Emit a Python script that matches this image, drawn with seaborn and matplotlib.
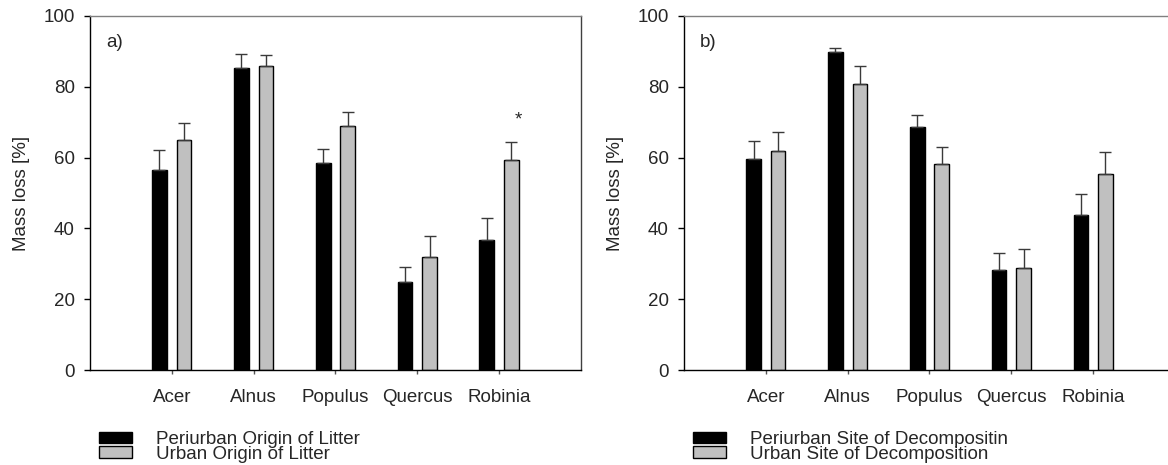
import numpy as np
import pandas as pd
import matplotlib
import matplotlib.pyplot as plt
import seaborn as sns
from matplotlib.patches import Patch

matplotlib.use('Agg')

species = ['Acer', 'Alnus', 'Populus', 'Quercus', 'Robinia']

# a) origin of litter
a_periurban = [56.6, 85.4, 58.4, 24.9, 36.7]
a_periurban_err = [5.6, 4.0, 3.9, 4.2, 6.3]
a_urban = [65.1, 85.9, 68.8, 32.0, 59.4]
a_urban_err = [4.8, 3.2, 4.2, 5.8, 5.1]

# b) site of decomposition
b_periurban = [59.5, 89.9, 68.6, 28.3, 43.9]
b_periurban_err = [5.3, 1.1, 3.5, 4.7, 5.7]
b_urban = [62.0, 80.9, 58.2, 28.9, 55.3]
b_urban_err = [5.3, 5.1, 4.7, 5.4, 6.2]

a_labels = ['Periurban Origin of Litter', 'Urban Origin of Litter']
b_labels = ['Periurban Site of Decompositin', 'Urban Site of Decomposition']

sns.set_theme(style='ticks')
plt.rcParams['font.family'] = ['Liberation Sans', 'DejaVu Sans']

FS = 13.5
BAR_COLORS = ['black', '#c0c0c0']


def make_frame(periurban, urban, labels):
    return pd.DataFrame({
        'species': species * 2,
        'value': periurban + urban,
        'group': [labels[0]] * len(species) + [labels[1]] * len(species),
    })


def draw_panel(ax, periurban, periurban_err, urban, urban_err, labels, tag):
    df = make_frame(periurban, urban, labels)
    sns.barplot(
        data=df, x='species', y='value', hue='group',
        palette=BAR_COLORS, width=0.6, gap=0.4,
        edgecolor='black', linewidth=1.0,
        errorbar=None, legend=False, ax=ax
    )
    # only the upper half of the error bars is shown
    for container, err in zip(ax.containers, [periurban_err, urban_err]):
        xs = [p.get_x() + p.get_width() / 2 for p in container.patches]
        ys = [p.get_height() for p in container.patches]
        ax.errorbar(
            xs, ys, yerr=[np.zeros(len(err)), err], fmt='none',
            ecolor='#3a3a3a', elinewidth=1.0, capsize=4, capthick=1.0, zorder=1
        )

    ax.set_xlim(-1, 5)
    ax.set_ylim(0, 100)
    ax.set_yticks([0, 20, 40, 60, 80, 100])
    ax.set_xlabel('')
    ax.set_ylabel('Mass loss [%]', fontsize=FS)
    ax.yaxis.set_label_coords(-0.122, 0.5)
    ax.tick_params(axis='y', length=4, width=1, pad=7, labelsize=FS, color='black')
    ax.tick_params(axis='x', length=3, width=1, pad=11, labelsize=FS, color='#555555')
    for side in ['left', 'bottom']:
        ax.spines[side].set_color('black')
        ax.spines[side].set_linewidth(1.0)
    ax.spines['top'].set_color('#808080')
    ax.spines['right'].set_color('#404040')
    ax.spines['top'].set_linewidth(1.0)
    ax.spines['right'].set_linewidth(1.0)

    ax.text(0.033, 0.924, tag, transform=ax.transAxes, fontsize=FS,
            ha='left', va='center')

    handles = [Patch(facecolor=c, edgecolor='black', linewidth=1.0) for c in BAR_COLORS]
    ax.legend(
        handles, labels, loc='center left', bbox_to_anchor=(0.018, -0.217),
        frameon=False, fontsize=FS, borderpad=0, borderaxespad=0,
        handlelength=1.75, handleheight=0.55, handletextpad=1.3,
        labelspacing=-0.12
    )


fig = plt.figure(figsize=(11.68, 4.65), dpi=100)
ax_a = fig.add_axes([0.077, 0.2043, 0.4204, 0.7613])
ax_b = fig.add_axes([0.5856, 0.2043, 0.4204, 0.7613])

draw_panel(ax_a, a_periurban, a_periurban_err, a_urban, a_urban_err, a_labels, 'a)')
draw_panel(ax_b, b_periurban, b_periurban_err, b_urban, b_urban_err, b_labels, 'b)')

# significance mark on Robinia, urban origin
ax_a.text(4.24, 70.5, '*', fontsize=FS, ha='center', va='center')

fig.savefig('out.png', dpi=100)
plt.close(fig)
